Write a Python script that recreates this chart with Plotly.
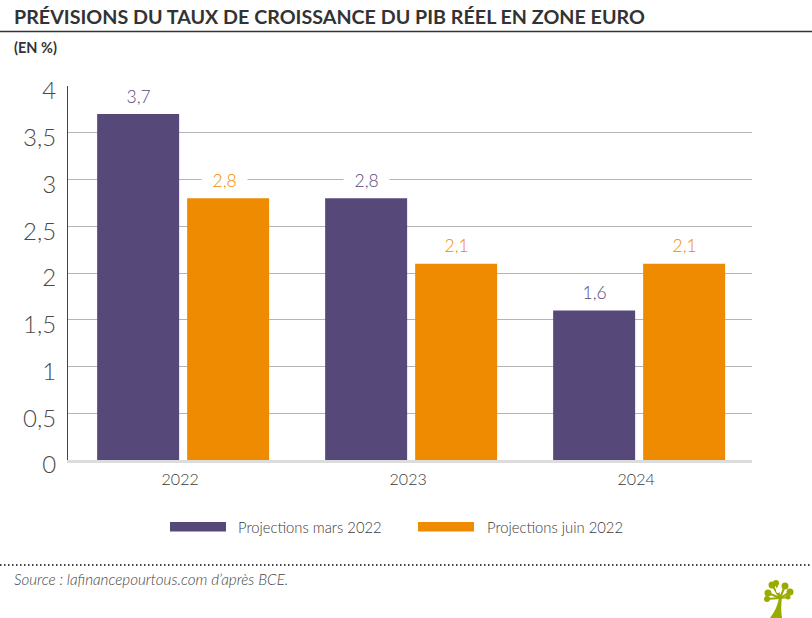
import plotly.graph_objects as go

years = ["2022", "2023", "2024"]
mars_2022 = [3.7, 2.8, 1.6]
juin_2022 = [2.8, 2.1, 2.1]
y_ticks = [0, 0.5, 1, 1.5, 2, 2.5, 3, 3.5, 4]

W, H = 812, 618
L, R, T, B = 68, 60, 86, 158
PURPLE = "#57487a"
ORANGE = "#ee8b00"
TEXT = "#3a3a3a"
FONT = "Lato, sans-serif"


# paper coordinates are relative to the plot area, so convert from picture pixels
def px(x):
    return (x - L) / (W - L - R)


def py(y):
    return (H - B - y) / (H - T - B)


fig = go.Figure()
for name, vals, col in [("Projections mars 2022", mars_2022, PURPLE),
                        ("Projections juin 2022", juin_2022, ORANGE)]:
    fig.add_trace(go.Bar(x=years, y=vals, name=name, marker=dict(color=col, line_width=0),
                         showlegend=False))

fig.update_layout(
    width=W, height=H, autosize=False,
    paper_bgcolor="white", plot_bgcolor="white",
    font=dict(family=FONT, color=TEXT),
    separators=", ",
    margin=dict(l=L, r=R, t=T, b=B, pad=0),
    barmode="group", bargap=0.2105, bargroupgap=0.089,
)
fig.update_xaxes(type="category", range=[-0.505, 2.495], showline=True, linecolor="#dcdcdc", linewidth=3,
                 ticks="", tickfont=dict(size=16, color=TEXT, weight=300),
                 ticklabelstandoff=3, ticklabelshift=-3)
fig.update_yaxes(range=[0, 4], tickvals=y_ticks, gridcolor="#b4b4b4", gridwidth=1,
                 zeroline=False, showline=True, linecolor="#444444", linewidth=1,
                 ticks="", tickfont=dict(size=24, color="#4a4a4a", weight=300),
                 ticklabelstandoff=6, ticklabelshift=5)

# value labels sit further above the bars than textposition="outside" allows,
# and cut a white gap into any gridline behind them
for vals, col, shift in [(mars_2022, PURPLE, -45), (juin_2022, ORANGE, 45)]:
    for i, v in enumerate(vals):
        nudge = -4 if (col == ORANGE and i == 0) else 0
        txt = f"{v:.1f}".replace(".", ",")
        fig.add_annotation(x=i, y=v, text=f"&nbsp;&nbsp;{txt}&nbsp;&nbsp;", showarrow=False,
                           xshift=shift + nudge, yshift=18, yanchor="middle", bgcolor="white",
                           font=dict(size=17.5, color=col, family=FONT, weight=300))

# header / footer rules
fig.add_shape(type="line", xref="paper", yref="paper", x0=px(0), x1=px(W), y0=py(31.5), y1=py(31.5),
              line=dict(color="#333333", width=1.5))
fig.add_shape(type="line", xref="paper", yref="paper", x0=px(0), x1=px(W), y0=py(565), y1=py(565),
              line=dict(color="#444444", width=2, dash="1.5px,2.5px"))


def label(x, y, text, size, color=TEXT, weight=None):
    fig.add_annotation(xref="paper", yref="paper", x=px(x), y=py(y), text=text, showarrow=False,
                       xanchor="left", yanchor="middle", align="left",
                       font=dict(size=size, color=color, family=FONT, weight=weight), borderpad=0)


label(13, 16.5, "<b>PRÉVISIONS DU TAUX DE CROISSANCE DU PIB RÉEL EN ZONE EURO</b>", 19.7, "#333333")
label(13, 47, "<b>(EN %)</b>", 14.5, "#333333")
label(13, 579, "<i>Source : lafinancepourtous.com d’après BCE.</i>", 15.2, "#444444", 300)

# legend drawn by hand for the long flat swatches
for x0, x1, col, name, tx in [(170, 226, PURPLE, "Projections mars 2022", 237),
                              (418, 474, ORANGE, "Projections juin 2022", 486)]:
    fig.add_shape(type="rect", xref="paper", yref="paper", x0=px(x0), x1=px(x1),
                  y0=py(531.5), y1=py(522), fillcolor=col, line_width=0)
    label(tx, 527, name, 14.8, TEXT, 300)

# tree logo
GREEN = "#9aab00"
fig.add_shape(type="path", xref="paper", yref="paper", fillcolor=GREEN, line_width=0,
              path="M {:.4f},{:.4f} C {:.4f},{:.4f} {:.4f},{:.4f} {:.4f},{:.4f} L {:.4f},{:.4f} C {:.4f},{:.4f} {:.4f},{:.4f} {:.4f},{:.4f} Z".format(
                  px(770), py(618), px(776), py(610), px(778), py(604), px(779), py(597),
                  px(782), py(597), px(781), py(604), px(781), py(612), px(782), py(618)))
blobs = [(767, 599, 3), (768, 593, 3.5), (772, 585, 3.5), (776, 583, 3), (785, 586, 3.5),
         (790, 592, 3.5), (788, 597, 2.5)]
for cx, cy, r in blobs:
    fig.add_shape(type="line", xref="paper", yref="paper", x0=px(780), y0=py(598), x1=px(cx), y1=py(cy),
                  line=dict(color=GREEN, width=2))
    fig.add_shape(type="circle", xref="paper", yref="paper", fillcolor=GREEN, line_width=0,
                  x0=px(cx - r), x1=px(cx + r), y0=py(cy + r), y1=py(cy - r))
fig.add_shape(type="circle", xref="paper", yref="paper", fillcolor="white", line_width=0,
              x0=px(776), x1=px(780), y0=py(593), y1=py(587))

fig.write_html("out.html", config={"displayModeBar": False},
               post_script="document.body.style.margin='0';")
